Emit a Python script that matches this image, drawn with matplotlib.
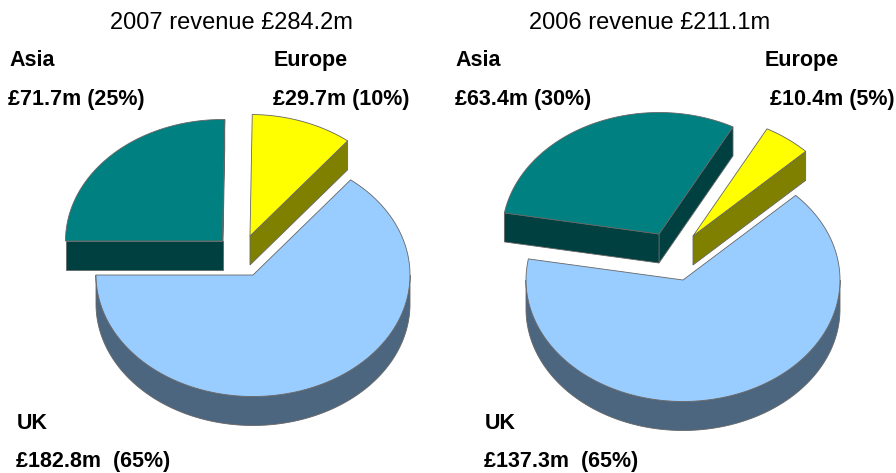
import numpy as np
import matplotlib
matplotlib.use('Agg')
import matplotlib.pyplot as plt
from matplotlib.patches import Polygon

plt.rcParams['font.family'] = ['Liberation Sans', 'DejaVu Sans']

regions = ['UK', 'Europe', 'Asia']
values_2007 = [182.8, 29.7, 71.7]
values_2006 = [137.3, 10.4, 63.4]
labels_2007 = ['£182.8m  (65%)', '£29.7m (10%)', '£71.7m (25%)']
labels_2006 = ['£137.3m  (65%)', '£10.4m (5%)', '£63.4m (30%)']
title_2007 = '2007 revenue £284.2m'
title_2006 = '2006 revenue £211.1m'

top_colors = ['#99CCFF', '#FFFF00', '#008080']
side_colors = ['#4D6680', '#808000', '#004040']
edge = '#666666'

RX, RY, DEPTH = 157, 121.5, 29


def arc(cx, cy, a, b):
    t = np.radians(np.linspace(a, b, 200))
    return np.column_stack([cx + RX*np.cos(t), cy - RY*np.sin(t)])


def slice3d(ax, cx, cy, a, b, top, side, z):
    down = np.array([0, DEPTH])
    apex = np.array([cx, cy])
    rim = arc(cx, cy, a, b)
    # the two cut faces, only where they look towards the viewer
    if np.cos(np.radians(a)) > 0.001:
        ax.add_patch(Polygon([apex, rim[0], rim[0]+down, apex+down], fc=side, ec=edge, lw=0.6, zorder=z))
    if np.cos(np.radians(b)) < -0.001:
        ax.add_patch(Polygon([apex, rim[-1], rim[-1]+down, apex+down], fc=side, ec=edge, lw=0.6, zorder=z))
    # outer wall, lower half of the ellipse
    lo, hi = max(a, 180), min(b, 360)
    if hi > lo:
        wall = arc(cx, cy, lo, hi)
        ax.add_patch(Polygon(np.vstack([wall, (wall+down)[::-1]]), fc=side, ec=edge, lw=0.6, zorder=z))
    ax.add_patch(Polygon(np.vstack([apex, rim]), fc=top, ec=edge, lw=0.6, zorder=z+1))


def pie3d(ax, values, start, apexes):
    shares = np.array(values)/sum(values)*360
    a = start
    for i in range(len(values)):
        b = a + shares[i]
        slice3d(ax, apexes[i][0], apexes[i][1], a, b, top_colors[i], side_colors[i], 2+i)
        a = b


fig = plt.figure(figsize=(8.96, 4.73), dpi=100)
ax = fig.add_axes([0, 0, 1, 1])
ax.set_xlim(0, 896)
ax.set_ylim(473, 0)
ax.axis('off')

pie3d(ax, values_2007, 180, [(253, 275), (250, 236), (222.5, 241)])
pie3d(ax, values_2006, 170, [(683, 280), (693, 236), (659, 234)])

ax.text(231, 29, title_2007, fontsize=17, ha='center', va='baseline')
ax.text(650, 29, title_2006, fontsize=17, ha='center', va='baseline')

bold = dict(fontsize=15.5, fontweight='bold', va='baseline', ha='left')
ax.text(9, 66, regions[2], **bold)
ax.text(8, 105, labels_2007[2], **bold)
ax.text(274, 66, regions[1], **bold)
ax.text(273, 105, labels_2007[1], **bold)
ax.text(17, 429, regions[0], **bold)
ax.text(16, 467, labels_2007[0], **bold)

ax.text(455, 66, regions[2], **bold)
ax.text(455, 105, labels_2006[2], **bold)
ax.text(765, 66, regions[1], **bold)
ax.text(770, 105, labels_2006[1], **bold)
ax.text(485, 429, regions[0], **bold)
ax.text(484, 467, labels_2006[0], **bold)

fig.savefig('out.png', dpi=100)
